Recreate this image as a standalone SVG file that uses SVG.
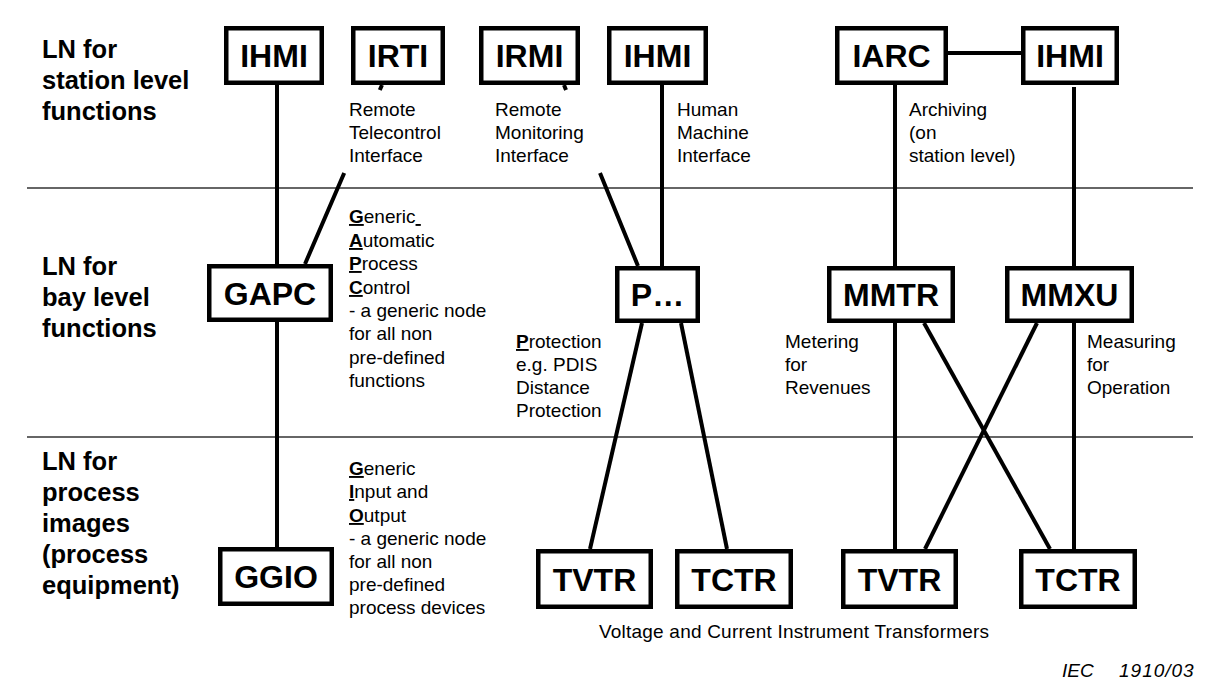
<svg xmlns="http://www.w3.org/2000/svg" width="1216" height="700" viewBox="0 0 1216 700">
  <style>
    .box { fill: #ffffff; stroke: #000000; stroke-width: 4.5; }
    .name { font-family: "Liberation Sans", Arial, sans-serif; font-weight: bold; font-size: 32px; fill: #000000; text-anchor: middle; }
    .level { font-family: "Liberation Sans", Arial, sans-serif; font-weight: bold; font-size: 25.5px; fill: #000000; }
    .note { font-family: "Liberation Sans", Arial, sans-serif; font-size: 19px; fill: #000000; }
    .key { font-weight: bold; text-decoration: underline; }
    .link { fill: none; stroke: #000000; stroke-width: 4; }
    .divider { stroke: #333333; stroke-width: 1.6; }
  </style>

  <rect width="1216" height="700" fill="#ffffff"/>

  <!-- level dividers -->
  <g id="dividers">
    <line class="divider" x1="27" y1="188" x2="1193" y2="188"/>
    <line class="divider" x1="27" y1="437" x2="1193" y2="437"/>
  </g>

  <!-- level titles -->
  <g id="level-titles">
    <text class="level" x="42" y="58">LN for</text>
    <text class="level" x="42" y="89">station level</text>
    <text class="level" x="42" y="120">functions</text>

    <text class="level" x="42" y="275">LN for</text>
    <text class="level" x="42" y="306">bay level</text>
    <text class="level" x="42" y="337">functions</text>

    <text class="level" x="42" y="470">LN for</text>
    <text class="level" x="42" y="501">process</text>
    <text class="level" x="42" y="532">images</text>
    <text class="level" x="42" y="563">(process</text>
    <text class="level" x="42" y="594">equipment)</text>
  </g>

  <!-- connectors -->
  <g id="connectors">
    <line class="link" x1="277" y1="85" x2="277" y2="547"/>
    <path class="link" d="M382,85 L379.8,90 M344.2,173 L305,264"/>
    <path class="link" d="M564,85 L566,90 M600,173 L638,266"/>
    <line class="link" x1="662" y1="85" x2="662" y2="266"/>
    <line class="link" x1="895" y1="85" x2="895" y2="549"/>
    <line class="link" x1="948" y1="53" x2="1021" y2="53"/>
    <line class="link" x1="1074" y1="87" x2="1074" y2="549"/>
    <line class="link" x1="642" y1="323" x2="590" y2="549"/>
    <line class="link" x1="681" y1="323" x2="727" y2="549"/>
    <line class="link" x1="924" y1="323" x2="1050" y2="549"/>
    <line class="link" x1="1037" y1="323" x2="925" y2="549"/>
  </g>

  <!-- station level nodes -->
  <g id="ihmi-1">
    <rect class="box" x="226.25" y="28.25" width="95.5" height="54.5"/>
    <text class="name" x="274" y="67">IHMI</text>
  </g>
  <g id="irti">
    <rect class="box" x="353.25" y="28.25" width="89.5" height="54.5"/>
    <text class="name" x="398" y="67">IRTI</text>
  </g>
  <g id="irmi">
    <rect class="box" x="481.25" y="28.25" width="96.5" height="54.5"/>
    <text class="name" x="529.5" y="67">IRMI</text>
  </g>
  <g id="ihmi-2">
    <rect class="box" x="609.25" y="28.25" width="96.5" height="54.5"/>
    <text class="name" x="657.5" y="67">IHMI</text>
  </g>
  <g id="iarc">
    <rect class="box" x="837.25" y="28.25" width="108.5" height="54.5"/>
    <text class="name" x="891.5" y="67">IARC</text>
  </g>
  <g id="ihmi-3">
    <rect class="box" x="1023.25" y="28.25" width="93.5" height="54.5"/>
    <text class="name" x="1070" y="67">IHMI</text>
  </g>

  <!-- bay level nodes -->
  <g id="gapc">
    <rect class="box" x="209.25" y="266.25" width="121.5" height="53.5"/>
    <text class="name" x="270" y="304.5">GAPC</text>
  </g>
  <g id="p-node">
    <rect class="box" x="617.25" y="268.25" width="80.5" height="52.5"/>
    <text class="name" x="657.5" y="306">P…</text>
  </g>
  <g id="mmtr">
    <rect class="box" x="829.25" y="268.25" width="123.5" height="52.5"/>
    <text class="name" x="891" y="306">MMTR</text>
  </g>
  <g id="mmxu">
    <rect class="box" x="1007.25" y="268.25" width="124.5" height="52.5"/>
    <text class="name" x="1069.5" y="306">MMXU</text>
  </g>

  <!-- process level nodes -->
  <g id="ggio">
    <rect class="box" x="220.25" y="549.25" width="111.5" height="54.5"/>
    <text class="name" x="276" y="588">GGIO</text>
  </g>
  <g id="tvtr-1">
    <rect class="box" x="538.25" y="551.25" width="112.5" height="55.5"/>
    <text class="name" x="594.5" y="590.5">TVTR</text>
  </g>
  <g id="tctr-1">
    <rect class="box" x="677.25" y="551.25" width="113.5" height="55.5"/>
    <text class="name" x="734" y="590.5">TCTR</text>
  </g>
  <g id="tvtr-2">
    <rect class="box" x="843.25" y="551.25" width="112.5" height="55.5"/>
    <text class="name" x="899.5" y="590.5">TVTR</text>
  </g>
  <g id="tctr-2">
    <rect class="box" x="1021.25" y="551.25" width="113.5" height="55.5"/>
    <text class="name" x="1078" y="590.5">TCTR</text>
  </g>

  <!-- descriptions -->
  <g id="descriptions">
    <text class="note" x="349" y="116">Remote</text>
    <text class="note" x="349" y="139">Telecontrol</text>
    <text class="note" x="349" y="162">Interface</text>

    <text class="note" x="495" y="116">Remote</text>
    <text class="note" x="495" y="139">Monitoring</text>
    <text class="note" x="495" y="162">Interface</text>

    <text class="note" x="677" y="116">Human</text>
    <text class="note" x="677" y="139">Machine</text>
    <text class="note" x="677" y="162">Interface</text>

    <text class="note" x="909" y="116">Archiving</text>
    <text class="note" x="909" y="139">(on</text>
    <text class="note" x="909" y="162">station level)</text>

    <text class="note" x="349" y="223"><tspan class="key">G</tspan>eneric<tspan text-decoration="underline">&#160;</tspan></text>
    <text class="note" x="349" y="247"><tspan class="key">A</tspan>utomatic</text>
    <text class="note" x="349" y="270"><tspan class="key">P</tspan>rocess</text>
    <text class="note" x="349" y="294"><tspan class="key">C</tspan>ontrol</text>
    <text class="note" x="349" y="317">- a generic node</text>
    <text class="note" x="349" y="340">for all non</text>
    <text class="note" x="349" y="364">pre-defined</text>
    <text class="note" x="349" y="387">functions</text>

    <text class="note" x="516" y="348"><tspan class="key">P</tspan>rotection</text>
    <text class="note" x="516" y="371">e.g. PDIS</text>
    <text class="note" x="516" y="394">Distance</text>
    <text class="note" x="516" y="417">Protection</text>

    <text class="note" x="785" y="348">Metering</text>
    <text class="note" x="785" y="371">for</text>
    <text class="note" x="785" y="394">Revenues</text>

    <text class="note" x="1087" y="348">Measuring</text>
    <text class="note" x="1087" y="371">for</text>
    <text class="note" x="1087" y="394">Operation</text>

    <text class="note" x="349" y="475"><tspan class="key">G</tspan>eneric</text>
    <text class="note" x="349" y="498"><tspan class="key">I</tspan>nput and</text>
    <text class="note" x="349" y="522"><tspan class="key">O</tspan>utput</text>
    <text class="note" x="349" y="545">- a generic node</text>
    <text class="note" x="349" y="568">for all non</text>
    <text class="note" x="349" y="591">pre-defined</text>
    <text class="note" x="349" y="614">process devices</text>

    <text class="note" x="599" y="638" textLength="390">Voltage and Current Instrument Transformers</text>
  </g>

  <!-- figure reference -->
  <g id="figure-ref" font-family="'Liberation Sans', Arial, sans-serif" font-style="italic" font-size="19" fill="#000000">
    <text x="1062" y="677">IEC</text>
    <text x="1119" y="677" letter-spacing="1">1910/03</text>
  </g>
</svg>
